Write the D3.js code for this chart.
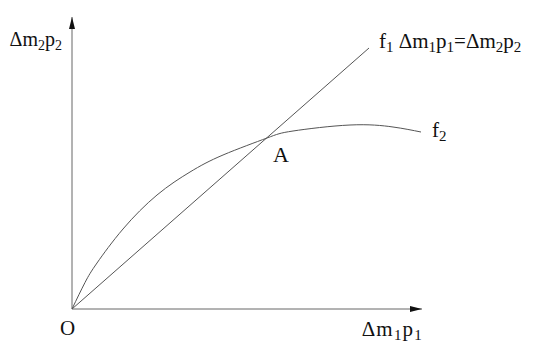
<!DOCTYPE html>
<html>
<head>
<meta charset="utf-8">
<script src="https://cdn.jsdelivr.net/npm/d3@7"></script>
<style>
  body { margin: 0; background: #fff; }
  text { font-family: "Liberation Serif", "Times New Roman", serif; fill: #111; }
</style>
</head>
<body>
<div id="chart"></div>
<script>
// f2 curve
const f2X = [0, 1.3, 2.5, 5.1, 8.5, 11.8, 15.1, 19.5, 22.1, 27.8, 32.1, 34.9];
const f2Y = [0, 2.65, 4.6, 8.0, 11.4, 13.7, 15.4, 17.1, 17.8, 18.4, 18.2, 17.7];
// f1 straight line  dm1p1 = dm2p2
const f1X = [0, 29.7];
const f1Y = [0, 26.1];
// where they meet
const pointA = [19.5, 17.1];

const width = 533, height = 351;

const svg = d3.select("#chart")
    .append("svg")
    .attr("width", width)
    .attr("height", height);

const x = d3.scaleLinear().domain([0, 35]).range([72, 422]);
const y = d3.scaleLinear().domain([0, 29.2]).range([309, 17]);

// arrow heads
const defs = svg.append("defs");
defs.append("marker")
    .attr("id", "arrow")
    .attr("viewBox", "0 0 12 6")
    .attr("refX", 12)
    .attr("refY", 3)
    .attr("markerWidth", 12)
    .attr("markerHeight", 6)
    .attr("markerUnits", "userSpaceOnUse")
    .attr("orient", "auto")
    .append("path")
    .attr("d", "M0,0 L12,3 L0,6 Z")
    .attr("fill", "#111");

// axes
svg.append("line")
    .attr("x1", x(0)).attr("y1", y(0))
    .attr("x2", x(35)).attr("y2", y(0))
    .attr("stroke", "#666")
    .attr("stroke-width", 1)
    .attr("marker-end", "url(#arrow)");

svg.append("line")
    .attr("x1", x(0)).attr("y1", y(0))
    .attr("x2", x(0)).attr("y2", y(29.2))
    .attr("stroke", "#666")
    .attr("stroke-width", 1)
    .attr("marker-end", "url(#arrow)");

const line = d3.line()
    .x(d => x(d[0]))
    .y(d => y(d[1]));

// f1
svg.append("path")
    .datum(d3.zip(f1X, f1Y))
    .attr("d", line)
    .attr("fill", "none")
    .attr("stroke", "#555")
    .attr("stroke-width", 1);

// f2
svg.append("path")
    .datum(d3.zip(f2X, f2Y))
    .attr("d", line.curve(d3.curveNatural))
    .attr("fill", "none")
    .attr("stroke", "#555")
    .attr("stroke-width", 1);

// labels with subscripts
function label(px, py, parts, size, anchor) {
    const t = svg.append("text")
        .attr("x", px)
        .attr("y", py)
        .attr("text-anchor", anchor || "start")
        .attr("font-size", size);
    let down = false;
    parts.forEach(p => {
        if (p.sub) {
            t.append("tspan")
                .attr("font-size", Math.round(size * 0.7))
                .attr("dy", down ? 0 : 4)
                .text(p.sub);
            down = true;
        } else {
            t.append("tspan")
                .attr("dy", down ? -4 : 0)
                .text(p.t);
            down = false;
        }
    });
    return t;
}

const last = f2X.length - 1;

label(x(0) - 10, y(29.2) + 29,
    [{t: "Δm"}, {sub: "2"}, {t: "p"}, {sub: "2"}], 20, "end");

label(x(f1X[1]) + 10, y(f1Y[1]),
    [{t: "f"}, {sub: "1"}, {t: " Δm"}, {sub: "1"}, {t: "p"}, {sub: "1"},
     {t: "=Δm"}, {sub: "2"}, {t: "p"}, {sub: "2"}], 21);

label(x(f2X[last]) + 11, y(f2Y[last]) + 5,
    [{t: "f"}, {sub: "2"}], 21);

label(x(pointA[0]) + 6, y(pointA[1]) + 24, [{t: "A"}], 22);

label(x(0) - 12, y(0) + 26, [{t: "O"}], 21);

label(x(35) + 1, y(0) + 27,
    [{t: "Δm"}, {sub: "1"}, {t: "p"}, {sub: "1"}], 21, "end")
    .attr("letter-spacing", 1.2);
</script>
</body>
</html>
